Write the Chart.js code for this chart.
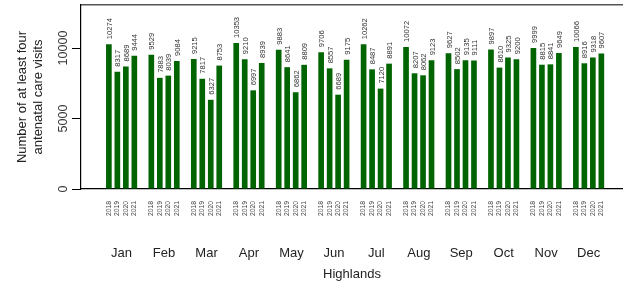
<!DOCTYPE html>
<html>
<head>
<meta charset="utf-8">
<script src="https://cdn.jsdelivr.net/npm/chart.js@4/dist/chart.umd.min.js"></script>
<style>
  html, body { margin: 0; padding: 0; background: #ffffff; overflow: hidden; }
  #wrap { width: 623px; height: 284px; }
</style>
</head>
<body>
<div id="wrap"><canvas id="c" width="623" height="284"></canvas></div>
<script>
const months = ['Jan','Feb','Mar','Apr','May','Jun','Jul','Aug','Sep','Oct','Nov','Dec'];
const years = ['2018','2019','2020','2021'];
const v2018 = [10274, 9529, 9215, 10353, 9883, 9706, 10262, 10072, 9627, 9897, 9999, 10066];
const v2019 = [8317, 7883, 7817, 9210, 8641, 8557, 8487, 8207, 8502, 8610, 8815, 8916];
const v2020 = [8689, 8039, 6327, 6997, 6862, 6689, 7120, 8062, 9135, 9325, 8841, 9318];
const v2021 = [9444, 9084, 8753, 8939, 8809, 9175, 8891, 9123, 9111, 9200, 9649, 9607];
const yTicks = [0, 5000, 10000];
const yTitle = ['Number of at least four', 'antenatal care visits'];
const xTitle = 'Highlands';

const series = [v2018, v2019, v2020, v2021];
const FONT = '"Liberation Sans", Arial, Helvetica, sans-serif';
const BAR = '#006400';

const XMIN = 0.0436, XMAX = 12.81;
const SLOT = 0.2; // width of one bar slot in month units (0.8 / 4)

const datasets = series.map((vals, j) => ({
  label: years[j],
  xAxisID: 'x',
  yAxisID: 'y',
  data: vals.map((v, i) => ({ x: i + 1, y: v })),
  backgroundColor: BAR,
  borderWidth: 0,
  categoryPercentage: 0.8,
  barPercentage: 0.667
}));

const valueLabels = {
  id: 'valueLabels',
  afterDatasetsDraw(chart) {
    const ctx = chart.ctx;
    ctx.save();
    ctx.font = '7.6px ' + FONT;
    ctx.fillStyle = '#333333';
    ctx.textAlign = 'left';
    ctx.textBaseline = 'middle';
    chart.data.datasets.forEach((ds, di) => {
      chart.getDatasetMeta(di).data.forEach((bar, i) => {
        ctx.save();
        ctx.translate(bar.x + 1, bar.y - 5);
        ctx.rotate(-Math.PI / 2);
        ctx.fillText(String(ds.data[i].y), 0, 0);
        ctx.restore();
      });
    });
    ctx.restore();
  }
};

const noPad = (h) => (s) => { s.height = h; s.paddingLeft = 0; s.paddingRight = 0; };

new Chart(document.getElementById('c'), {
  type: 'bar',
  data: { datasets },
  plugins: [valueLabels],
  options: {
    responsive: false,
    animation: false,
    devicePixelRatio: 1,
    layout: { padding: 0 },
    plugins: { legend: { display: false }, tooltip: { enabled: false } },
    scales: {
      x: {
        type: 'linear',
        position: 'bottom',
        weight: 2,
        offset: false,
        min: XMIN, max: XMAX,
        afterBuildTicks: s => { s.ticks = months.map((m, i) => ({ value: i + 1 })); },
        afterFit: noPad(50),
        ticks: {
          callback: (v, i) => months[i],
          autoSkip: false, maxRotation: 0, minRotation: 0,
          padding: 12,
          color: '#222222',
          font: { family: FONT, size: 13 }
        },
        grid: { display: false, drawTicks: false, tickLength: 0, offset: false },
        border: { display: false },
        title: { display: true, text: xTitle, color: '#222222', font: { family: FONT, size: 13 }, padding: { top: 0, bottom: 2 } }
      },
      x2: {
        type: 'linear',
        axis: 'x',
        position: 'bottom',
        weight: 1,
        offset: false,
        min: XMIN, max: XMAX,
        afterBuildTicks: s => {
          const t = [];
          months.forEach((m, i) => years.forEach((y, j) => t.push({ value: i + 1 + (j - 1.5) * SLOT })));
          s.ticks = t;
        },
        afterFit: noPad(45),
        ticks: {
          callback: (v, i) => years[i % 4],
          autoSkip: false, maxRotation: 90, minRotation: 90,
          padding: 12,
          color: '#444444',
          font: { family: FONT, size: 6.8 }
        },
        grid: { display: false, drawTicks: false, tickLength: 0 },
        border: { display: true, color: '#000000', width: 1.2 }
      },
      xt: {
        type: 'linear',
        axis: 'x',
        position: 'top',
        offset: false,
        min: XMIN, max: XMAX,
        afterFit: noPad(5),
        ticks: { display: false },
        grid: { display: false, drawTicks: false, tickLength: 0 },
        border: { display: true, color: '#555555', width: 1.5 }
      },
      y: {
        type: 'linear',
        position: 'left',
        min: 0, max: 13050,
        afterBuildTicks: s => { s.ticks = yTicks.map(v => ({ value: v })); },
        afterFit: s => { s.width = 81; s.paddingTop = 0; s.paddingBottom = 0; },
        ticks: {
          callback: v => String(v),
          minRotation: 90, maxRotation: 90,
          crossAlign: 'center',
          padding: -9,
          color: '#333333',
          font: { family: FONT, size: 12.5 }
        },
        grid: { display: true, drawOnChartArea: false, drawTicks: true, tickLength: 9, color: '#000000', lineWidth: 1 },
        border: { display: true, color: '#000000', width: 1.2 },
        title: { display: true, text: yTitle, color: '#222222', font: { family: FONT, size: 13, lineHeight: 1.3 }, padding: { top: 13.5, bottom: 0 } }
      }
    }
  }
});
</script>
</body>
</html>
